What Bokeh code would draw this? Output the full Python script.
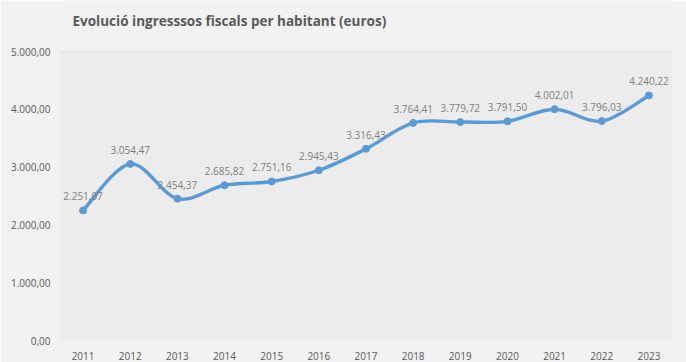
from bokeh.plotting import figure
from bokeh.models import Range1d, FixedTicker, ColumnDataSource
from bokeh.core.properties import value
from bokeh.embed import file_html
from bokeh.resources import INLINE

years = [2011, 2012, 2013, 2014, 2015, 2016, 2017, 2018, 2019, 2020, 2021, 2022, 2023]
values = [2251.07, 3054.47, 2454.37, 2685.82, 2751.16, 2945.43, 3316.43, 3764.41,
          3779.72, 3791.50, 4002.01, 3796.03, 4240.22]
labels = ["2.251,07", "3.054,47", "2.454,37", "2.685,82", "2.751,16", "2.945,43", "3.316,43",
          "3.764,41", "3.779,72", "3.791,50", "4.002,01", "3.796,03", "4.240,22"]
y_ticks = [0, 1000, 2000, 3000, 4000, 5000]
y_tick_labels = ["0,00", "1.000,00", "2.000,00", "3.000,00", "4.000,00", "5.000,00"]
title = "Evolució ingresssos fiscals per habitant (euros)"

BLUE = "#5b9bd5"
FONT = "Open Sans"

W, H = 686, 362
BORDER_L, BORDER_R, BORDER_B = 59, 14, 22
PLOT_TOP_PX = 51           # distance of the 5000 gridline from the top of the figure
frame_h = H - BORDER_B
y_max = max(y_ticks)
y_top = y_max * frame_h / (frame_h - PLOT_TOP_PX)
x_lo, x_hi = years[0] - 0.5, years[-1] + 0.5

p = figure(width=W, height=H, output_backend="svg", toolbar_location=None,
           x_range=Range1d(x_lo, x_hi), y_range=Range1d(0, y_top),
           min_border_left=BORDER_L, min_border_right=BORDER_R, min_border_top=0,
           min_border_bottom=BORDER_B)

p.background_fill_color = "#f2f2f2"
p.border_fill_color = "#f2f2f2"
p.outline_line_color = None

# plot area background (0 .. 5000)
p.quad(left=[x_lo], right=[x_hi], bottom=[0], top=[y_max], fill_color="#ececec", line_color=None)

# axes
p.xaxis.ticker = FixedTicker(ticks=years)
p.xaxis.major_label_overrides = {y: str(y) for y in years}
p.yaxis.ticker = FixedTicker(ticks=y_ticks)
p.yaxis.major_label_overrides = dict(zip(y_ticks, y_tick_labels))
for ax in (p.xaxis[0], p.yaxis[0]):
    ax.axis_line_color = None
    ax.major_tick_line_color = None
    ax.minor_tick_line_color = None
    ax.major_label_text_font = FONT
    ax.major_label_text_font_size = "10px"
    ax.major_label_text_color = "#595959"
p.xaxis.major_label_standoff = 5
p.yaxis.major_label_standoff = 3

p.xgrid.grid_line_color = None
p.ygrid.grid_line_color = "#d9d9d9"
p.ygrid.grid_line_width = 1

# title
p.text(x=[x_lo], y=[y_top], text=[title], x_offset=13, y_offset=20,
       text_font=value(FONT), text_font_style="bold", text_font_size="13.5px",
       text_color="#595959", text_baseline="middle", text_align="left")

# smoothed line (Bezier segments with Catmull-Rom control points, like Excel smoothing)
n = len(years)
x0, y0, x1, y1, cx0, cy0, cx1, cy1 = [], [], [], [], [], [], [], []
for i in range(n - 1):
    xa, ya = years[i], values[i]
    xb, yb = years[i + 1], values[i + 1]
    xp, yp = (years[i - 1], values[i - 1]) if i > 0 else (xa, ya)
    xn, yn = (years[i + 2], values[i + 2]) if i + 2 < n else (xb, yb)
    x0.append(xa); y0.append(ya); x1.append(xb); y1.append(yb)
    cx0.append(xa + (xb - xp) / 6.0); cy0.append(ya + (yb - yp) / 6.0)
    cx1.append(xb - (xn - xa) / 6.0); cy1.append(yb - (yn - ya) / 6.0)
p.bezier(x0=x0, y0=y0, x1=x1, y1=y1, cx0=cx0, cy0=cy0, cx1=cx1, cy1=cy1,
         line_color=BLUE, line_width=3.4, line_cap="round")

src = ColumnDataSource(dict(x=years, y=values, t=labels))
p.scatter("x", "y", source=src, size=7, marker="circle", fill_color=BLUE, line_color=BLUE)

p.text("x", "y", text="t", source=src, text_font=value(FONT), text_font_size="10px",
       text_color="#7f7f7f", text_align="center", text_baseline="middle", y_offset=-14)

open("out.html", "w").write(file_html(p, INLINE))
